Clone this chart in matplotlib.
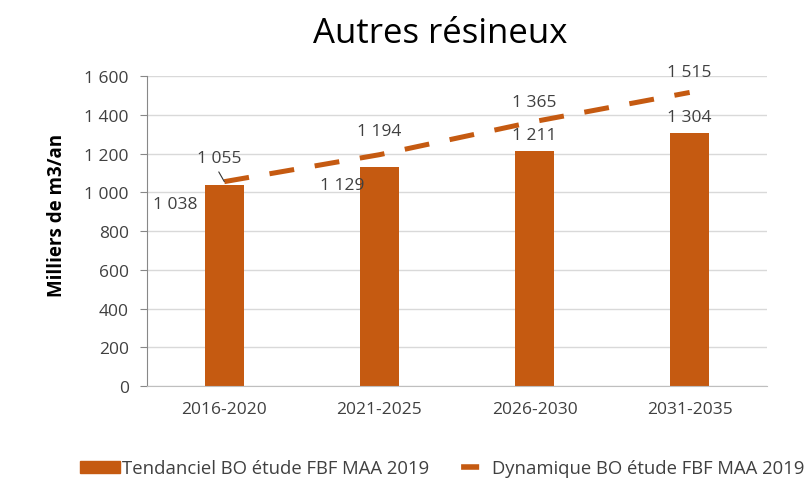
import numpy as np
import matplotlib
matplotlib.use('Agg')
import matplotlib.pyplot as plt
from matplotlib.patches import Patch
from matplotlib.lines import Line2D

plt.rcParams['font.family'] = ['Open Sans', 'DejaVu Sans']
plt.rcParams['lines.scale_dashes'] = False

periods = ['2016-2020', '2021-2025', '2026-2030', '2031-2035']
tendanciel = [1038, 1129, 1211, 1304]    # bars
dynamique = [1055, 1194, 1365, 1515]     # dashed line
yticks = [0, 200, 400, 600, 800, 1000, 1200, 1400, 1600]
ytick_labels = ['0', '200', '400', '600', '800', '1 000', '1 200', '1 400', '1 600']

orange = '#C55A11'
grey_txt = '#404040'

def fmt(v):
    return '{:,}'.format(v).replace(',', ' ')

fig = plt.figure(figsize=(8.11, 4.81), dpi=100)
ax = fig.add_axes([0.181, 0.195, 0.765, 0.645])

x = np.arange(len(periods))
ax.bar(x, tendanciel, width=0.25, color=orange, zorder=2)
ax.plot(x, dynamique, color=orange, lw=3.6, dashes=(18, 15), zorder=3)

# bar labels (first two sit on the left of the bar, the others above)
bar_offsets = [(-35, -14), (-27, -13), (0, 12), (0, 12)]
for xi, v, (dx, dy) in zip(x, tendanciel, bar_offsets):
    ax.annotate(fmt(v), (xi, v), xytext=(dx, dy), textcoords='offset points',
                ha='center', va='center', fontsize=12.5, color=grey_txt)

# line labels
line_offsets = [(-4, 17), (0, 17), (0, 14), (0, 15)]
for xi, v, (dx, dy) in zip(x, dynamique, line_offsets):
    ax.annotate(fmt(v), (xi, v), xytext=(dx, dy), textcoords='offset points',
                ha='center', va='center', fontsize=12.5, color=grey_txt)
ax.annotate('', (x[0], dynamique[0]), xytext=(-4, 7),
            textcoords='offset points',
            arrowprops=dict(arrowstyle='-', color='#333333', lw=0.8,
                            shrinkA=0, shrinkB=0))

ax.set_xlim(-0.5, len(periods) - 0.5)
ax.set_ylim(0, 1600)
ax.set_yticks(yticks)
ax.set_yticklabels(ytick_labels)
ax.set_xticks(x)
ax.set_xticklabels(periods)
ax.tick_params(axis='y', labelsize=12.5, colors=grey_txt, length=5, pad=8, color='#888888')
ax.tick_params(axis='x', labelsize=12.5, colors=grey_txt, length=0, pad=11)
ax.grid(axis='y', color='#d9d9d9', lw=1, zorder=0)
for s in ['top', 'right']:
    ax.spines[s].set_visible(False)
ax.spines['left'].set_color('#888888')
ax.spines['bottom'].set_color('#bfbfbf')

fig.text(57 / 811, 1 - 215 / 481, 'Milliers de m3/an', rotation=90,
         ha='center', va='center', fontsize=13.5, fontweight='bold')
fig.text(0.543, 0.93, 'Autres résineux', ha='center', va='center', fontsize=25)

handles = [Patch(color=orange),
           Line2D([], [], color=orange, lw=4, linestyle=(45, (13, 40)))]
labels = ['Tendanciel BO étude FBF MAA 2019', 'Dynamique BO étude FBF MAA 2019']
fig.legend(handles, labels, loc='center', bbox_to_anchor=(0.545, 0.024), ncol=2,
           frameon=False, fontsize=13.3, handlelength=2.2, handleheight=0.6,
           columnspacing=1.1, handletextpad=0.1, labelcolor=grey_txt)

plt.savefig('out.png', dpi=100)
